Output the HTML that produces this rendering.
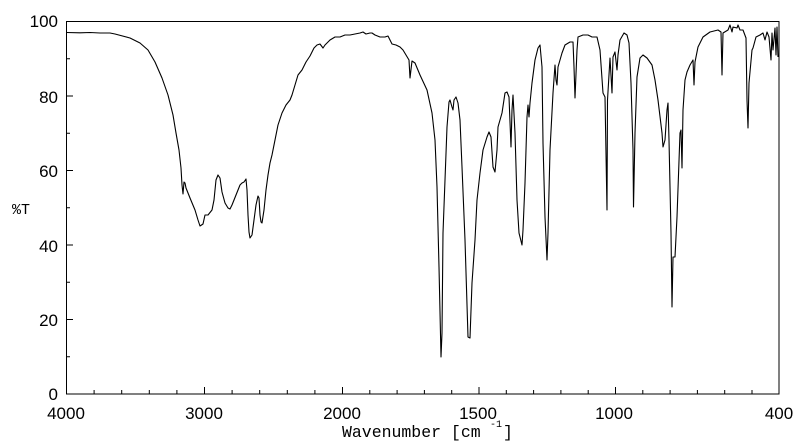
<!DOCTYPE html>
<html><head><style>
html,body{margin:0;padding:0;background:#fff;}
svg{display:block;}
.t{font-family:"Liberation Sans",Arial,sans-serif;font-size:17px;fill:#000;}
.m{font-family:"Liberation Mono","Courier New",monospace;fill:#000;}
</style></head><body>
<svg width="800" height="441" viewBox="0 0 800 441">
<rect x="66.5" y="21.5" width="712.5" height="372.5" fill="none" stroke="#000" stroke-width="1"/>
<path stroke="#000" stroke-width="1" fill="none" d="
M66.5 356.75H70 M66.5 319.5H73 M66.5 282.25H70 M66.5 245H73 M66.5 207.75H70 M66.5 170.5H73 M66.5 133.25H70 M66.5 96H73 M66.5 58.75H70
M94.1 394V390 M121.7 394V390 M149.3 394V390 M176.9 394V390 M204.5 394V387 M232.1 394V390 M259.7 394V390 M287.3 394V390 M314.9 394V390 M342.5 394V387
M369.8 394V390 M397.1 394V390 M424.4 394V390 M451.7 394V390 M479 394V387 M506.3 394V390 M533.6 394V390 M560.9 394V390 M588.2 394V390 M615.5 394V387 M642.8 394V390 M670.1 394V390 M697.4 394V390 M724.7 394V390 M752 394V390"/>
<g class="t" text-anchor="end">
<text x="58" y="27">100</text><text x="58" y="103">80</text><text x="58" y="177">60</text>
<text x="58" y="252">40</text><text x="58" y="326">20</text><text x="58" y="400">0</text>
</g>
<g class="t" text-anchor="middle">
<text x="66" y="419">4000</text><text x="204" y="419">3000</text><text x="342" y="419">2000</text>
<text x="478" y="419">1500</text><text x="614" y="419">1000</text><text x="779" y="419">400</text>
</g>
<text class="m" x="12" y="214" font-size="15">%T</text>
<text class="m" x="342" y="437" font-size="16.5">Wavenumber [cm</text>
<text class="m" x="490" y="427" font-size="10">-1</text>
<text class="m" x="503" y="437" font-size="16.5">]</text>
<polyline fill="none" stroke="#000" stroke-width="1.1" stroke-linejoin="round" points="
66.5,32.5 80,32.8 90,32.5 100,33 110,33 115,34 130,38 140,43 148,50 155,62 162,78 168,95 173,115 176,133 179,150 181,168 182,185 183,194 184,182 185,183 186,188 190,198 195,210 198,220 200,226 203,224 205,215 208,215 212,210 214,200 216,180 218,175 220,178 222,192 225,203 228,208 230,209 232,205 236,195 240,185 242,183 244,182 246,179 247,190 248,215 249,232 250,238 252,235 254,220 256,205 258,196 259,198 260,215 261,222 262,223 264,210 266,190 268,175 270,163 272,155 275,140 278,125 282,113 286,105 290,100 292,95 295,85 298,75 302,70 306,62 310,56 314,48 317,45 320,44 323,48 325,45 330,40 335,37 340,37 345,35 350,35 355,34 360,33 363,32 366,34 370,33 372,33 375,35 380,37 385,37 388,36 392,44 396,45
400,47 403,50 409,60 410,78 412,61 415,63 420,75 427,90 432,113 435,140 437,187 439,267 441,357 442,333 443,233 447,127 449,102 450,100 452,107 453,110 454,100 456,97 458,103 460,120 462,167 465,240 468,337 470,338 472,283 475,240 477,200 480,173 483,150 487,137 489,132 491,137 493,167 495,172 497,150 498,127 502,113 505,93 507,92 509,97 511,147 512,110 513,95 515,133 517,200 519,233 522,245 523,230 525,183 527,117 528,105 529,117 530,103 532,83 535,60 538,48 540,45 542,67 543,143 545,217 547,260 548,233 550,150 553,93 555,65 556,80 557,85 558,67 562,53 565,45 570,42 573,42 574,67 575,98 577,50 578,37 583,35 588,35 592,37 597,37 600,50 603,93 605,97 607,210 607.5,100 610,58 612,93 613,57 615,52 617,70 618,55 620,40 624,33 627,35 629,43 631,83 633,150 633.5,207 635,133 637,77 640,58 643,55 647,58 652,65 655,80 658,100 662,133 663,147 665,140 667,110 668,103 669,140 671,233 672,307 673,257 675,257 677,217 680,133 681,130 682,168 683,110 685,80 687,72 690,65 693,60 694,85 695,62 698,47 703,37 710,32 718,30 721,32 722,75 723,33 728,30 730,25 732,32 733,27 737,28 738,25 740,30 743,30 746,38 747,100 748,128 749,83 752,50 753,48 756,37 760,35 763,33 765,40 767,32 769,37 771,60 772,33 773,50 775,28 776,55 777,27 778,57"/>
</svg>
</body></html>
